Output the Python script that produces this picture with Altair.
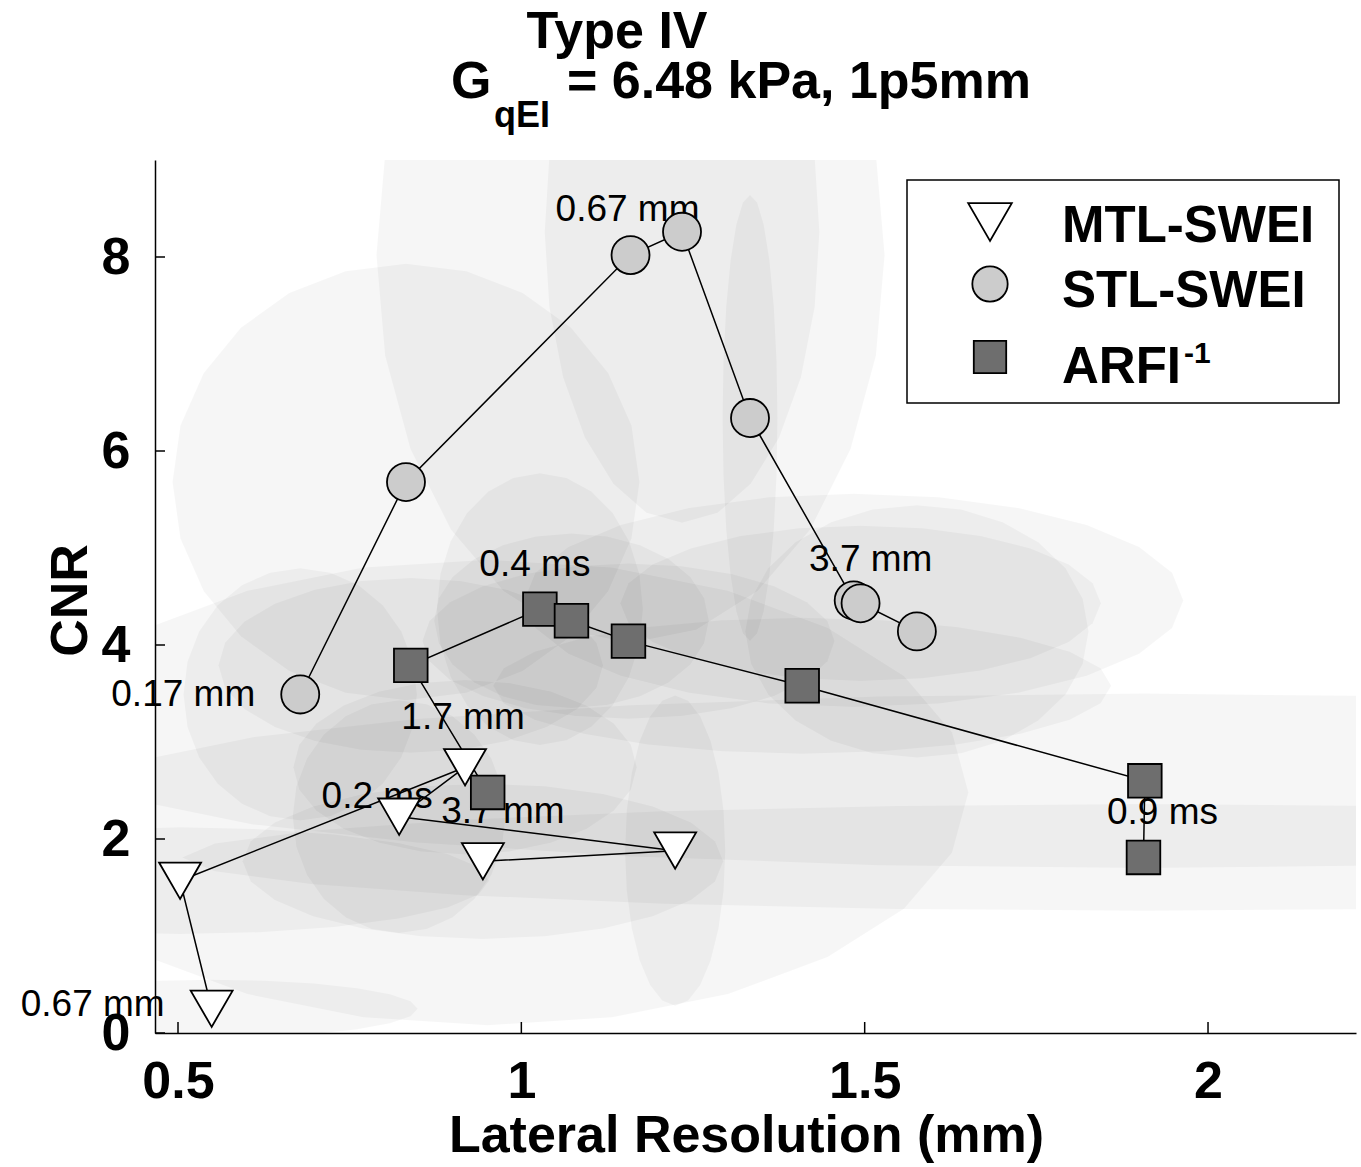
import altair as alt
import pandas as pd

FONT = "Liberation Sans"

# ---------------- data ----------------
series_names = ["MTL-SWEI", "STL-SWEI", "ARFI\u207b\u00b9"]
legend_texts = ["MTL-SWEI", "STL-SWEI", "ARFI"]
legend_sup = "-1"

mtl_x = [0.549, 0.503, 0.918, 0.822, 1.224, 0.944]
mtl_y = [0.25, 1.57, 2.74, 2.23, 1.88, 1.77]
mtl_sx = [0.30, 0.45, 0.25, 0.155, 0.073, 0.35]
mtl_sy = [0.30, 0.55, 0.90, 1.20, 1.60, 0.80]

stl_x = [0.678, 0.832, 1.159, 1.234, 1.333, 1.484, 1.494, 1.576]
stl_y = [3.49, 5.68, 8.02, 8.26, 6.34, 4.46, 4.43, 4.14]
stl_sx = [0.17, 0.34, 0.37, 0.20, 0.04, 0.48, 0.35, 0.25]
stl_sy = [1.30, 2.25, 4.00, 3.00, 2.30, 1.10, 0.80, 1.30]

arfi_x = [0.951, 0.839, 1.027, 1.073, 1.156, 1.409, 1.908, 1.906]
arfi_y = [2.48, 3.79, 4.37, 4.25, 4.04, 3.58, 2.60, 1.81]
arfi_sx = [0.70, 0.28, 0.15, 0.20, 0.30, 0.45, 1.50, 1.40]
arfi_sy = [2.40, 0.90, 1.40, 0.90, 0.80, 0.70, 0.90, 0.55]

# point annotations: (series, point index, text)
annotations = [
    ("MTL-SWEI", 0, "0.67 mm"),
    ("STL-SWEI", 0, "0.17 mm"),
    ("STL-SWEI", 2, "0.67 mm"),
    ("STL-SWEI", 5, "3.7 mm"),
    ("ARFI\u207b\u00b9", 2, "0.4 ms"),
    ("MTL-SWEI", 2, "1.7 mm"),
    ("MTL-SWEI", 3, "0.2 ms"),
    ("MTL-SWEI", 5, "3.7 mm"),
    ("ARFI\u207b\u00b9", 7, "0.9 ms"),
]
# label offsets in pixels (style): dx, dy, align
ann_style = [
    (-47, -4, "right"),
    (-45, 1, "right"),
    (-3, -45, "center"),
    (17, -40, "center"),
    (-5, -44, "center"),
    (-2, -49, "center"),
    (-22, -20, "center"),
    (20, -49, "center"),
    (19, -44, "center"),
]

x_ticks = [0.5, 1, 1.5, 2]
y_ticks = [0, 2, 4, 6, 8]
x_domain = [0.4665, 2.2155]
y_domain = [0, 9.0]

# ---------------- tables ----------------
rows = []
for name, xs_, ys_, sxs, sys_ in [
    (series_names[0], mtl_x, mtl_y, mtl_sx, mtl_sy),
    (series_names[1], stl_x, stl_y, stl_sx, stl_sy),
    (series_names[2], arfi_x, arfi_y, arfi_sx, arfi_sy),
]:
    for i, (x, y, sx, sy) in enumerate(zip(xs_, ys_, sxs, sys_)):
        rows.append(dict(series=name, idx=i, x=x, y=y, sx=sx, sy=sy, eid=f"{name}-{i}"))
df = pd.DataFrame(rows)

W, H = 1201, 873

xs = alt.Scale(domain=x_domain, nice=False, zero=False)
ys = alt.Scale(domain=y_domain, nice=False, zero=False)
shape_scale = alt.Scale(domain=series_names, range=["triangle-down", "circle", "square"])
fill_scale = alt.Scale(domain=series_names, range=["white", "#cccccc", "#6e6e6e"])

X_AXIS = alt.Axis(
    values=x_ticks, format="~g", title="Lateral Resolution (mm)",
    titleFont=FONT, titleFontSize=52, titleFontWeight="bold", titleColor="black",
    titleX=591, titleY=102, titleBaseline="middle", titleAlign="center",
    labelFont=FONT, labelFontSize=52, labelFontWeight="bold", labelColor="black",
    labelPadding=23, labelFlush=False, labelOverlap=False,
    ticks=False, grid=False, domainColor="black", domainWidth=1.5,
)
Y_AXIS = alt.Axis(
    values=y_ticks, format="~g", title="CNR",
    titleFont=FONT, titleFontSize=52, titleFontWeight="bold", titleColor="black",
    titleX=-85, titleY=440, titleAngle=270, titleBaseline="middle", titleAlign="center",
    labelFont=FONT, labelFontSize=52, labelFontWeight="bold", labelColor="black",
    labelPadding=25, labelFlush=False, labelOverlap=False,
    ticks=False, grid=False, domainColor="black", domainWidth=1.5,
)


def X(field):
    return alt.X(field, scale=xs, axis=X_AXIS)


def Y(field):
    return alt.Y(field, scale=ys, axis=Y_AXIS)


# spread ellipses (drawn from centre and semi-axes through the scales)
ellipses = (
    alt.Chart(df)
    .transform_calculate(k="sequence(0, 24)")
    .transform_flatten(["k"])
    .transform_calculate(
        ex="datum.x + datum.sx * cos(2 * PI * datum.k / 24)",
        ey="datum.y + datum.sy * sin(2 * PI * datum.k / 24)",
    )
    .mark_line(interpolate="linear-closed", fill="black", fillOpacity=0.036,
               strokeWidth=0, clip=True)
    .encode(x=X("ex:Q"), y=Y("ey:Q"), detail="eid:N", order="k:Q")
)

# annotations
ann_layers = []
for (ser, idx, txt), (dx, dy, al) in zip(annotations, ann_style):
    r = df[(df.series == ser) & (df.idx == idx)].iloc[0]
    d = pd.DataFrame({"x": [r.x], "y": [r.y], "t": [txt]})
    ann_layers.append(
        alt.Chart(d).mark_text(font=FONT, fontSize=37, color="black", align=al,
                               baseline="middle", dx=dx, dy=dy)
        .encode(x=X("x:Q"), y=Y("y:Q"), text="t:N")
    )

lines = (
    alt.Chart(df)
    .mark_line(color="black", strokeWidth=1.5)
    .encode(x=X("x:Q"), y=Y("y:Q"), detail="series:N", order="idx:Q")
)

size_scale = alt.Scale(domain=series_names, range=[1760, 1130, 900])

points = (
    alt.Chart(df)
    .mark_point(filled=True, stroke="black", strokeWidth=1.8, opacity=1)
    .encode(
        x=X("x:Q"), y=Y("y:Q"),
        shape=alt.Shape("series:N", scale=shape_scale, legend=None),
        fill=alt.Fill("series:N", scale=fill_scale, legend=None),
        size=alt.Size("series:N", scale=size_scale, legend=None),
    )
)

xtick_marks = (
    alt.Chart(pd.DataFrame({"t": x_ticks}))
    .mark_rule(color="black", strokeWidth=1.5)
    .encode(x=X("t:Q"), y=alt.value(H - 11), y2=alt.value(H))
)
ytick_marks = (
    alt.Chart(pd.DataFrame({"t": y_ticks}))
    .mark_rule(color="black", strokeWidth=1.5)
    .encode(y=Y("t:Q"), x=alt.value(0), x2=alt.value(10))
)

# ---------------- legend (boxed, top right) ----------------
legend_box = (
    alt.Chart(pd.DataFrame({"a": [0]}))
    .mark_rect(fill="white", stroke="black", strokeWidth=1.5)
    .encode(x=alt.value(752), x2=alt.value(1184), y=alt.value(20), y2=alt.value(243))
)
legend_sym_y = [62, 124, 197]
legend_txt_y = [82, 147, 223]
legend_sizes = [1900, 1250, 1050]
legend_layers = [legend_box]
for name, txt, sy, ty, sz in zip(series_names, legend_texts, legend_sym_y, legend_txt_y, legend_sizes):
    d = pd.DataFrame({"series": [name], "t": [txt]})
    legend_layers.append(
        alt.Chart(d)
        .mark_point(filled=True, stroke="black", strokeWidth=1.8, opacity=1, size=sz)
        .encode(
            x=alt.value(835), y=alt.value(sy),
            shape=alt.Shape("series:N", scale=shape_scale, legend=None),
            fill=alt.Fill("series:N", scale=fill_scale, legend=None),
        )
    )
    legend_layers.append(
        alt.Chart(d)
        .mark_text(font=FONT, fontSize=51, fontWeight="bold", color="black",
                   align="left", baseline="alphabetic")
        .encode(x=alt.value(907), y=alt.value(ty), text="t:N")
    )
legend_layers.append(
    alt.Chart(pd.DataFrame({"t": [legend_sup]}))
    .mark_text(font=FONT, fontSize=30, fontWeight="bold", color="black",
               align="left", baseline="alphabetic")
    .encode(x=alt.value(1029), y=alt.value(203), text="t:N")
)


def title_part(txt, x, y, size, align="left"):
    return (
        alt.Chart(pd.DataFrame({"t": [txt]}))
        .mark_text(font=FONT, fontSize=size, fontWeight="bold", color="black",
                   align=align, baseline="alphabetic")
        .encode(x=alt.value(x), y=alt.value(y), text="t:N")
    )


titles = [
    title_part("Type IV", 462, -112, 52, "center"),
    title_part("G", 296, -62, 52),
    title_part("qEI", 339, -33, 36),
    title_part("= 6.48 kPa, 1p5mm", 412, -62, 52),
]

chart = (
    alt.layer(ellipses, *ann_layers, lines, points, xtick_marks, ytick_marks,
              *legend_layers, *titles)
    .properties(
        width=W, height=H,
        padding={"left": 155, "top": 160, "right": 5, "bottom": 134},
        autosize=alt.AutoSizeParams(type="none"),
        background="white",
    )
    .configure_view(strokeWidth=0)
)

chart.save("out.html", embed_options={"renderer": "svg", "actions": False})
